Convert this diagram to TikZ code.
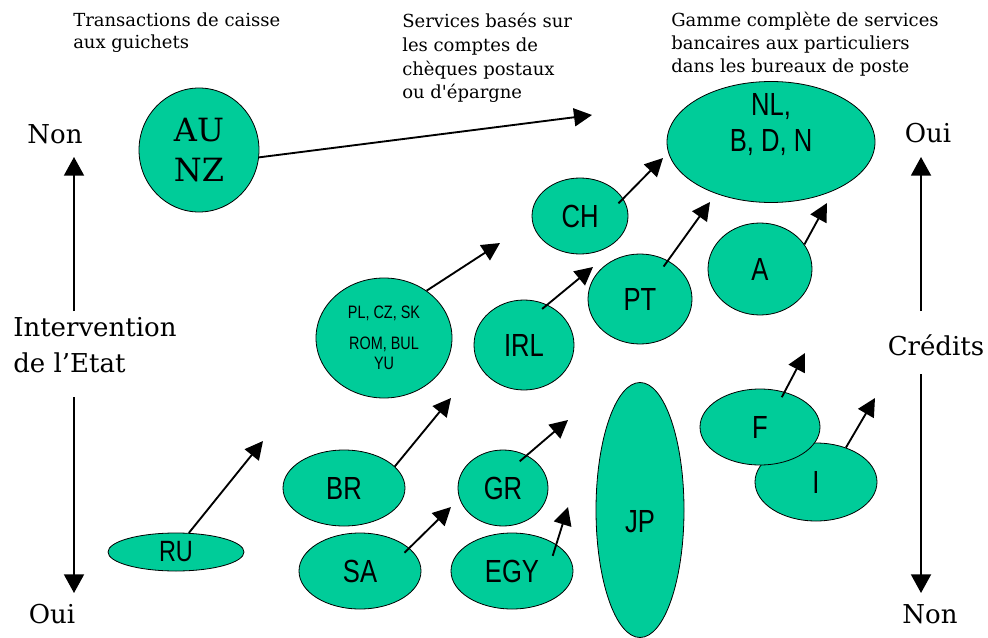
\documentclass[tikz,border=0pt]{standalone}
\usepackage{fontspec}
\setmainfont{DejaVu Serif}[Ligatures=TeXOff]
\newfontfamily\ovalfont{Liberation Sans}[FakeStretch=0.8]
\usetikzlibrary{shapes.geometric,arrows.meta}
\definecolor{vert}{HTML}{00CC99}

\begin{document}
\begin{tikzpicture}[x=0.75pt, y=-0.75pt, >={Triangle[length=13.5pt, width=13.5pt]}]
	\tikzstyle{bulle} = [draw, ellipse, fill=vert, line width=0.6pt, inner sep=0pt, align=center, font=\ovalfont\fontsize{24}{27}\selectfont]
	\tikzstyle{titre} = [anchor=north west, inner sep=0pt, align=left, font=\fontsize{13.5}{16.5}\selectfont]
	\tikzstyle{axe} = [anchor=base, inner sep=0pt, font=\fontsize{19.5}{27}\selectfont]
	\tikzstyle{fleche} = [->, line width=1.4pt]
	\tikzstyle{grande} = [-{Triangle[length=14pt, width=15pt]}, line width=1.4pt]

	\useasboundingbox (0,0) rectangle (988,638);

	% titres du haut
	\node[titre] (caisse) at (73,13) {Transactions de caisse\\aux guichets};
	\node[titre, font=\fontsize{13.5}{17.8}\selectfont] (comptes) at (402,13) {Services basés sur\\les comptes de\\chèques postaux\\ou d'épargne};
	\node[titre, font=\fontsize{13.5}{17.25}\selectfont] (gamme) at (671,12) {Gamme complète de services\\bancaires aux particuliers\\dans les bureaux de poste};

	% axes
	\node[axe] (non1) at (55,144) {Non};
	\node[axe] (oui1) at (52,623) {Oui};
	\node[axe, anchor=north west, align=left] (etat) at (13,317) {Intervention\\de l’Etat};
	\node[axe] (oui2) at (928,143) {Oui};
	\node[axe] (non2) at (930,623) {Non};
	\node[axe] (credits) at (936,355) {Crédits};

	\coordinate (g1) at (74,311);
	\coordinate (g2) at (74,157);
	\coordinate (g3) at (74,397);
	\coordinate (g4) at (74,593);
	\coordinate (d1) at (921,311);
	\coordinate (d2) at (921,157);
	\coordinate (d3) at (921,374);
	\coordinate (d4) at (921,593);
	\draw[grande] (g1) -- (g2);
	\draw[grande] (g3) -- (g4);
	\draw[grande] (d1) -- (d2);
	\draw[grande] (d3) -- (d4);

	% pays
	\path[fleche]
	node[bulle, minimum width=90pt, minimum height=93pt, font=\fontsize{24}{30}\selectfont] (au) at (199,150) {AU\\NZ}
	node[bulle, minimum width=156pt, minimum height=90.75pt, label={[font=\ovalfont\fontsize{24}{27}\selectfont, align=center, yshift=12.75pt]center:NL,\\B, D, N}] (nl) at (771,142) {}
	node[bulle, minimum width=72pt, minimum height=57pt] (ch) at (580,216) {CH}
	node[bulle, minimum width=78pt, minimum height=67.5pt] (pt) at (640,299) {PT}
	node[bulle, minimum width=78pt, minimum height=69pt] (a) at (760,269) {A}
	node[bulle, minimum width=75pt, minimum height=67.5pt] (irl) at (524,345) {IRL}
	node[bulle, minimum width=102pt, minimum height=90pt, font=\ovalfont\fontsize{13.5}{15}\selectfont] (pl) at (384,338) {PL, CZ, SK\\[8pt]ROM, BUL\\YU}
	node[bulle, minimum width=91.5pt, minimum height=57pt] (br) at (344,488) {BR}
	node[bulle, minimum width=102pt, minimum height=28.5pt, font=\ovalfont\fontsize{22}{25}\selectfont] (ru) at (176,552) {RU}
	node[bulle, minimum width=91.5pt, minimum height=57pt] (sa) at (360,571) {SA}
	node[bulle, minimum width=67.5pt, minimum height=57pt] (gr) at (503,488) {GR}
	node[bulle, minimum width=91.5pt, minimum height=57pt] (egy) at (512,571) {EGY}
	node[bulle, minimum width=66pt, minimum height=191.25pt, label={[font=\ovalfont\fontsize{24}{27}\selectfont, yshift=-9pt]center:JP}] (jp) at (640,510) {}
	node[bulle, minimum width=91.5pt, minimum height=58.5pt] (i) at (816,482) {I}
	node[bulle, minimum width=90pt, minimum height=57pt] (f) at (760,427) {F}

	coordinate (au2) at (592,115)
	coordinate (ch2) at (663,158)
	coordinate (pt2) at (710,202)
	coordinate (a2) at (827,203)
	coordinate (irl2) at (593,267)
	coordinate (pl2) at (500,243)
	coordinate (ru2) at (263,441)
	coordinate (br2) at (451,398)
	coordinate (sa2) at (451,507)
	coordinate (gr2) at (568,420)
	coordinate (egy2) at (568,507)
	coordinate (f2) at (805,353)
	coordinate (i2) at (875,398)

	(au.-7) edge (au2)
	(ch.22) edge[shorten <=-5pt] (ch2)
	(pt.54) edge[shorten <=-5.5pt] (pt2)
	(a.29) edge (a2)
	(irl.60) edge[shorten <=-5pt] (irl2)
	(pl.48) edge (pl2)
	(ru.56) edge (ru2)
	(br.23) edge (br2)
	(sa.25) edge[shorten <=-5pt] (sa2)
	(gr.54) edge[shorten <=-7pt] (gr2)
	(egy.31) edge[shorten <=-9pt] (egy2)
	(f.55) edge[shorten <=-4.5pt] (f2)
	(i.49) edge (i2)
	;
\end{tikzpicture}
\end{document}
